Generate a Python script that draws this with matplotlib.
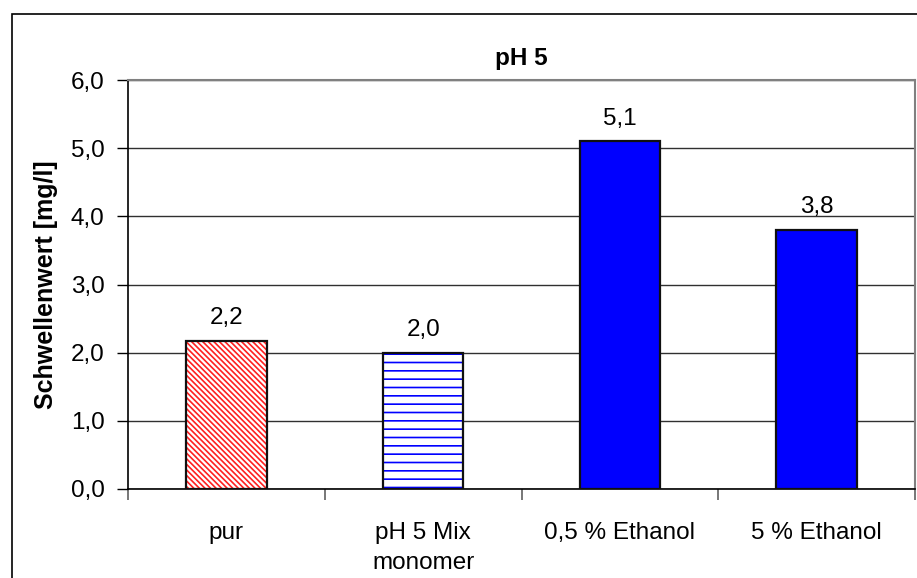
import numpy as np
import matplotlib.pyplot as plt
from matplotlib.patches import Rectangle

plt.rcParams['font.family'] = ['Liberation Sans', 'DejaVu Sans']
plt.rcParams['hatch.linewidth'] = 1.2

# data
categories = ['pur', 'pH 5 Mix\nmonomer', '0,5 % Ethanol', '5 % Ethanol']
values = [2.17, 2.0, 5.1, 3.8]
value_labels = ['2,2', '2,0', '5,1', '3,8']
y_ticks = [0, 1, 2, 3, 4, 5, 6]

fig = plt.figure(figsize=(9.17, 5.78), dpi=100)
fig.patches.append(Rectangle((12 / 917, -0.1), 1.2, 1.1 - 14 / 578,
                             transform=fig.transFigure, fill=False,
                             edgecolor='black', linewidth=1.2))
ax = fig.add_axes([128 / 917, 89 / 578, 787 / 917, 409 / 578])

x = np.arange(len(categories))
w = 0.41
faces = ['white', 'white', '#0000ff', '#0000ff']
hatch_cols = ['#ff2020', '#0000ff', '#0000ff', '#0000ff']
hatches = ['\\\\\\\\\\\\', '--', None, None]

for i in range(len(x)):
    ax.bar(x[i], values[i], w, color=faces[i], hatch=hatches[i],
           edgecolor=hatch_cols[i], linewidth=0, zorder=3)
    ax.bar(x[i], values[i], w, fill=False, edgecolor='#101010',
           linewidth=1.6, zorder=4)
    ax.text(x[i], values[i] + 0.17, value_labels[i], ha='center',
            va='bottom', fontsize=17.5)

ax.set_xlim(-0.5, len(x) - 0.5)
ax.set_ylim(0, 6)
ax.set_yticks(y_ticks)
ax.set_yticklabels(['%d,0' % t for t in y_ticks], fontsize=17.5)
ax.set_xticks(x)
ax.set_xticklabels(categories, fontsize=17.5, linespacing=1.45)
ax.set_xticks(np.arange(len(x) + 1) - 0.5, minor=True)
ax.tick_params(axis='x', which='major', length=0, pad=24)
ax.tick_params(axis='x', which='minor', length=8, width=1.2, color='#606060')
ax.tick_params(axis='y', length=8, width=1, pad=9)

ax.grid(axis='y', color='#303030', linewidth=1, zorder=0)
ax.set_axisbelow(True)
for s in ['top', 'right']:
    ax.spines[s].set_color('#808080')
    ax.spines[s].set_linewidth(1.5)
for s in ['left', 'bottom']:
    ax.spines[s].set_linewidth(1.2)

ax.set_title('pH 5', fontsize=17.5, fontweight='bold', pad=11)
ax.set_ylabel('Schwellenwert [mg/l]', fontsize=18, fontweight='bold', labelpad=9)

fig.savefig('out.png', dpi=100)
